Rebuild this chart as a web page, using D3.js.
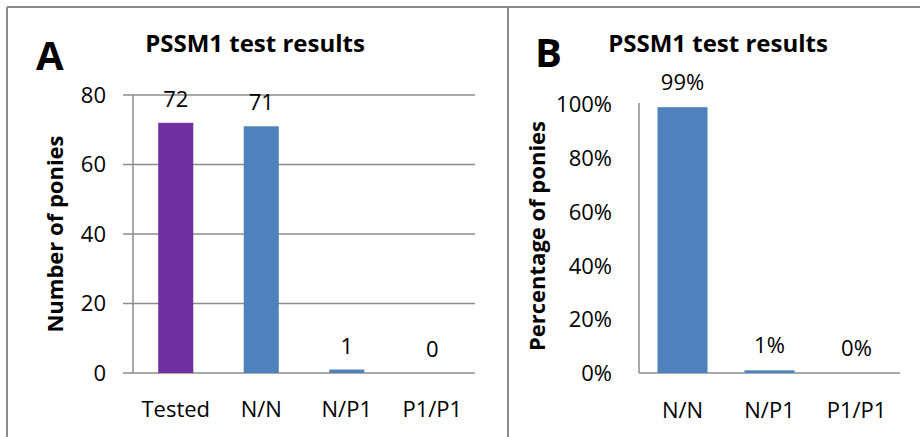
<!DOCTYPE html>
<html><head><meta charset="utf-8">
<script src="https://cdn.jsdelivr.net/npm/d3@7"></script>
<style>body{margin:0;background:#fff}svg{display:block}text{font-family:"Open Sans",sans-serif;fill:#000}</style>
</head><body>
<svg id="c" width="920" height="437"></svg>
<script>
const categoriesA = ["Tested", "N/N", "N/P1", "P1/P1"];
const valuesA = [72, 71, 1, 0];
const colorsA = ["#7030A0", "#4F81BD", "#4F81BD", "#4F81BD"];
const ticksA = [0, 20, 40, 60, 80];

const categoriesB = ["N/N", "N/P1", "P1/P1"];
const valuesB = [99, 1, 0];
const ticksB = [0, 20, 40, 60, 80, 100];

const svg = d3.select("#c");
const grey = "#8c8c8c";
const fs = 22;

// frame
svg.append("line").attr("x1",7).attr("x2",920).attr("y1",7).attr("y2",7).attr("stroke",grey).attr("stroke-width",2);
svg.append("line").attr("x1",7).attr("x2",7).attr("y1",7).attr("y2",437).attr("stroke",grey).attr("stroke-width",2);
svg.append("line").attr("x1",508).attr("x2",508).attr("y1",7).attr("y2",437).attr("stroke",grey).attr("stroke-width",2);

// Panel A
{
  const x = d3.scaleBand().domain(categoriesA).range([133, 475]).paddingInner(0.59).paddingOuter(0.295);
  const y = d3.scaleLinear().domain([0, 80]).range([373, 95]);
  const g = svg.append("g");
  g.selectAll(".grid").data(ticksA).join("line")
    .attr("x1",123).attr("x2",475).attr("y1",d=>y(d)).attr("y2",d=>y(d))
    .attr("stroke",grey).attr("stroke-width",1.5);
  g.append("line").attr("x1",133).attr("x2",133).attr("y1",y(80)).attr("y2",y(0)).attr("stroke",grey).attr("stroke-width",1.5);
  g.selectAll(".tl").data(ticksA).join("text")
    .attr("x",106).attr("y",d=>y(d)).attr("dy","0.36em").attr("text-anchor","end")
    .attr("font-size",fs).text(d=>d);
  g.selectAll(".bar").data(valuesA).join("rect")
    .attr("x",(d,i)=>x(categoriesA[i])).attr("width",x.bandwidth())
    .attr("y",d=>y(d)).attr("height",d=>y(0)-y(d)).attr("fill",(d,i)=>colorsA[i]);
  g.selectAll(".vl").data(valuesA).join("text")
    .attr("x",(d,i)=>x(categoriesA[i])+x.bandwidth()/2).attr("y",d=>y(d)-16)
    .attr("text-anchor","middle").attr("font-size",fs).text(d=>d);
  g.selectAll(".cl").data(categoriesA).join("text")
    .attr("x",d=>x(d)+x.bandwidth()/2).attr("y",417).attr("text-anchor","middle")
    .attr("font-size",fs).text(d=>d);
  g.append("text").attr("x",255).attr("y",52).attr("text-anchor","middle").attr("font-weight","bold").attr("font-size",24).text("PSSM1 test results");
  g.append("text").attr("x",36).attr("y",70).attr("font-weight","bold").attr("font-size",40).attr("font-family","Liberation Sans, Arial, sans-serif").text("A");
  g.append("text").attr("transform","translate(63,234) rotate(-90)").attr("text-anchor","middle").attr("font-weight","bold").attr("font-size",22).text("Number of ponies");
}

// Panel B
{
  const x = d3.scaleBand().domain(categoriesB).range([639, 900]).paddingInner(0.425).paddingOuter(0.2125);
  const y = d3.scaleLinear().domain([0, 100]).range([373, 104.5]);
  const g = svg.append("g");
  g.append("line").attr("x1",639).attr("x2",639).attr("y1",103).attr("y2",373).attr("stroke",grey).attr("stroke-width",1.5);
  g.append("line").attr("x1",639).attr("x2",900).attr("y1",y(0)).attr("y2",y(0)).attr("stroke",grey).attr("stroke-width",1.5);
  g.selectAll(".tl").data(ticksB).join("text")
    .attr("x",612).attr("y",d=>y(d)).attr("dy","0.36em").attr("text-anchor","end")
    .attr("font-size",fs).text(d=>d+"%");
  g.selectAll(".bar").data(valuesB).join("rect")
    .attr("x",(d,i)=>x(categoriesB[i])).attr("width",x.bandwidth())
    .attr("y",d=>y(d)).attr("height",d=>y(0)-y(d)).attr("fill","#4F81BD");
  g.selectAll(".vl").data(valuesB).join("text")
    .attr("x",(d,i)=>x(categoriesB[i])+x.bandwidth()/2).attr("y",d=>y(d)-17)
    .attr("text-anchor","middle").attr("font-size",fs).text(d=>d+"%");
  g.selectAll(".cl").data(categoriesB).join("text")
    .attr("x",d=>x(d)+x.bandwidth()/2).attr("y",418).attr("text-anchor","middle")
    .attr("font-size",fs).text(d=>d);
  g.append("text").attr("x",718).attr("y",52).attr("text-anchor","middle").attr("font-weight","bold").attr("font-size",24).text("PSSM1 test results");
  g.append("text").attr("x",535).attr("y",67).attr("font-weight","bold").attr("font-size",40).attr("font-family","Liberation Sans, Arial, sans-serif").text("B");
  g.append("text").attr("transform","translate(545,236) rotate(-90)").attr("text-anchor","middle").attr("font-weight","bold").attr("font-size",22).text("Percentage of ponies");
}
</script>
</body></html>
